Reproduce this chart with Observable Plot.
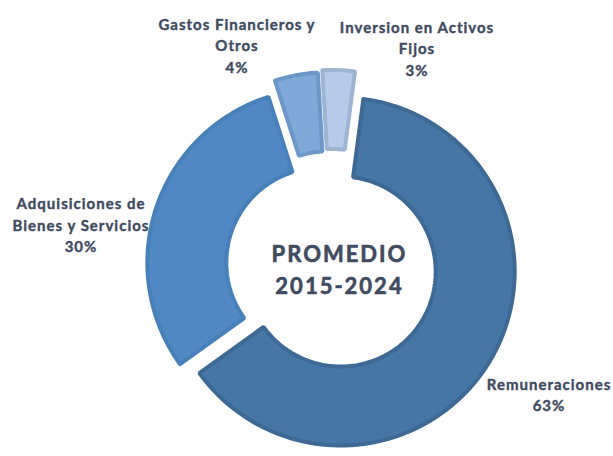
<!DOCTYPE html>
<html>
<head>
<meta charset="utf-8">
<script src="https://cdn.jsdelivr.net/npm/d3@7"></script>
<script src="https://cdn.jsdelivr.net/npm/@observablehq/plot@0.6"></script>
<style>
  html, body { margin: 0; padding: 0; background: #fff; }
  #chart { width: 613px; height: 456px; overflow: hidden; }
</style>
</head>
<body>
<div id="chart"></div>
<script>
// ---- data ----
const categories = ["Inversion en Activos Fijos", "Remuneraciones", "Adquisiciones de Bienes y Servicios", "Gastos Financieros y Otros"];
const values = [3, 63, 30, 4];
const labelNames = ["Inversion en Activos\nFijos", "Remuneraciones", "Adquisiciones de\nBienes y Servicios", "Gastos Financieros y\nOtros"];
const centerTitle = "PROMEDIO\n2015-2024";

// ---- styles / layout ----
const fills   = ["#b6cbe7", "#4576a5", "#4f88c3", "#7ea9d8"];
const strokes = ["#9db4d3", "#3d6994", "#4880b9", "#6d97c8"];
const explode = [22, 10.7, 10.7, 20];          // px offset along slice mid-angle
const startDeg = -3.3;                          // first slice angle
const R = 174, r = 95;                          // radii (stroke centred)
const W = 613, H = 456, cx = 331, cy = 265.5;   // pie centre in the frame
// label block centres in frame pixels
const labelPos = [[416, 47], [548, 393], [80, 223.5], [236, 44]];
const textColor = "#404b5f";
const font = "Lato, 'Open Sans', sans-serif";

// ---- geometry from data ----
const total = d3.sum(values);
const toRad = d => d * Math.PI / 180;
let acc = 0;
const slices = values.map((v, i) => {
  const a0 = toRad(startDeg) + acc / total * 2 * Math.PI;
  acc += v;
  const a1 = toRad(startDeg) + acc / total * 2 * Math.PI;
  const mid = (a0 + a1) / 2;
  const ox = explode[i] * Math.sin(mid), oy = explode[i] * Math.cos(mid);
  const n = Math.max(4, Math.ceil((a1 - a0) / toRad(1)));
  const pts = [];
  for (let k = 0; k <= n; k++) {
    const a = a0 + (a1 - a0) * k / n;
    pts.push({x: ox + R * Math.sin(a), y: oy + R * Math.cos(a)});
  }
  for (let k = n; k >= 0; k--) {
    const a = a0 + (a1 - a0) * k / n;
    pts.push({x: ox + r * Math.sin(a), y: oy + r * Math.cos(a)});
  }
  pts.push(pts[0]);
  return {cat: categories[i], value: v, pts};
});

const labels = values.map((v, i) => ({
  text: labelNames[i] + "\n" + v + "%",
  x: labelPos[i][0] - cx,
  y: cy - labelPos[i][1]
}));

const chart = Plot.plot({
  width: W, height: H,
  margin: 0,
  x: {domain: [-cx, W - cx], axis: null},
  y: {domain: [-(H - cy), cy], axis: null},
  style: {fontFamily: font, background: "#fff"},
  marks: [
    ...slices.map((s, i) => Plot.line(s.pts, {
      x: "x", y: "y", curve: "linear",
      fill: fills[i], stroke: strokes[i], strokeWidth: 4,
      strokeLinejoin: "miter"
    })),
    Plot.text(labels, {
      x: "x", y: "y", text: "text",
      fill: textColor, stroke: textColor, strokeWidth: 0.4,
      fontSize: 15, fontWeight: "bold",
      lineHeight: 1.43, lineAnchor: "middle", textAnchor: "middle",
      dx: 0.5
    }),
    Plot.text([centerTitle], {
      x: () => 7, y: () => -1.5, text: d => d,
      fill: textColor, stroke: textColor, strokeWidth: 0.6,
      fontSize: 22, fontWeight: "bold",
      lineHeight: 1.45, lineAnchor: "middle", textAnchor: "middle",
      dx: 1
    })
  ]
});
const textGroups = chart.querySelectorAll('g[aria-label="text"]');
if (textGroups[0]) textGroups[0].style.letterSpacing = "1px";
if (textGroups[1]) textGroups[1].style.letterSpacing = "2px";
document.getElementById("chart").appendChild(chart);
</script>
</body>
</html>
